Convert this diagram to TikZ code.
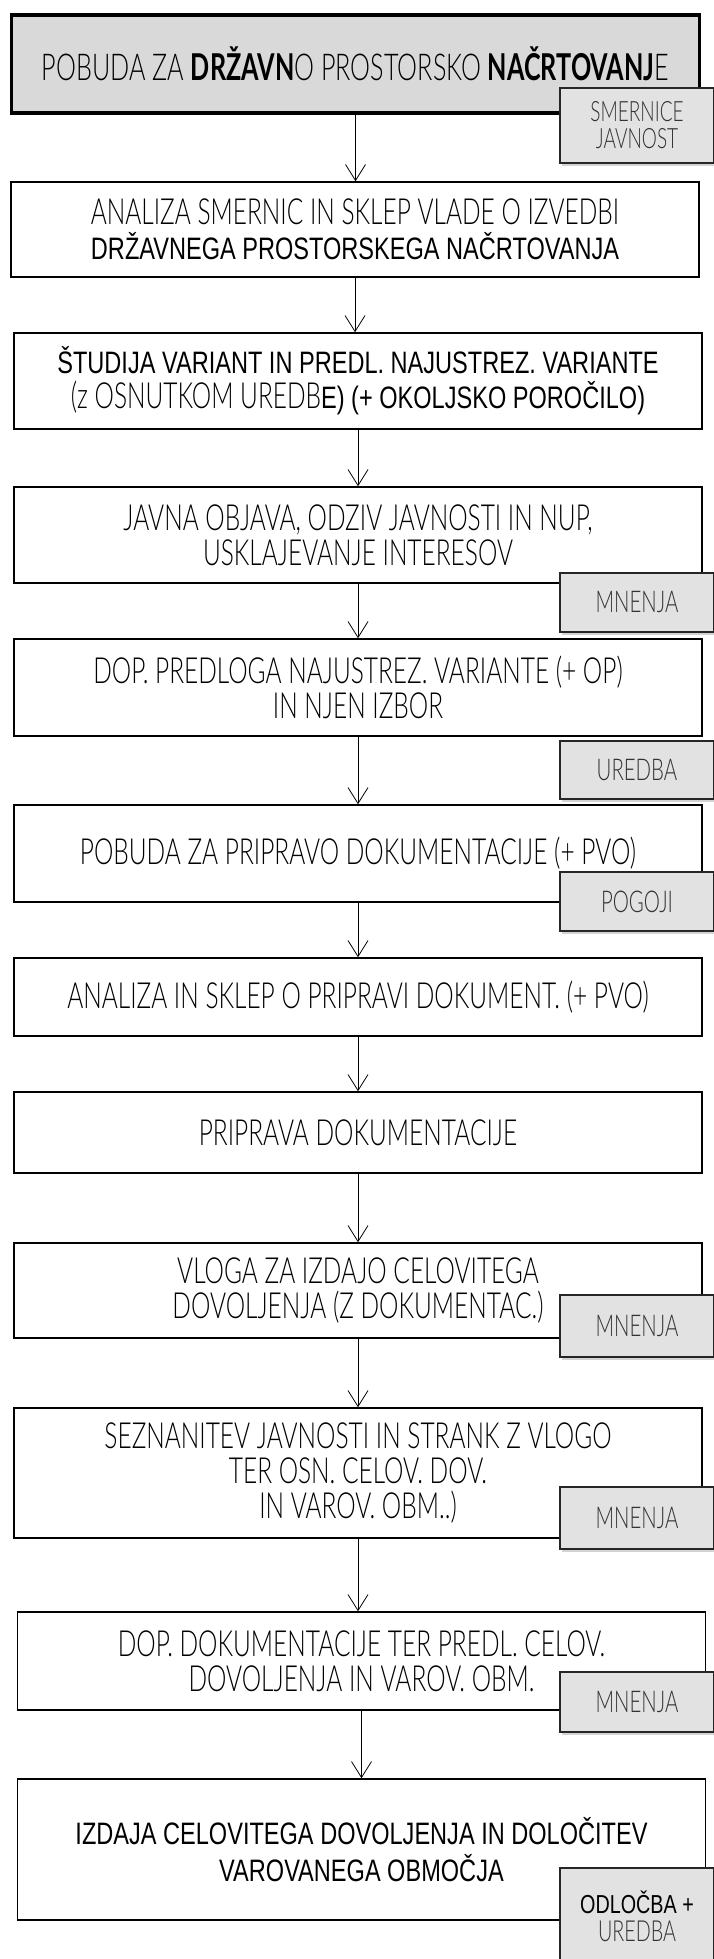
\documentclass[tikz,border=0pt]{standalone}
\usepackage{fontspec}
\usetikzlibrary{arrows.meta,shadows}
\newfontfamily\lightf{Lato Light}[FakeStretch=0.68]
\newfontfamily\boldf{Lato Bold}[FakeStretch=0.68]
\newfontfamily\narrowf{Liberation Sans}[FakeStretch=0.76]
\definecolor{topfill}{HTML}{D9D9D9}
\definecolor{tagfill}{HTML}{E2E2E2}
\definecolor{tagtext}{HTML}{333333}

\begin{document}
\begin{tikzpicture}[x=1pt,y=-1pt]

\tikzset{line/.style={draw,line width=0.8pt}}
\tikzset{arrow/.style={line,-{Straight Barb[length=16pt,width=20pt]}}}
\tikzset{box/.style={draw,line width=1.5pt,minimum width=688pt,align=center,inner sep=0pt,font=\lightf\fontsize{36}{35}\selectfont}}
\tikzset{tag/.style={draw=black!85,line width=1.5pt,fill=tagfill,minimum width=154pt,align=center,inner sep=0pt,text=tagtext,font=\lightf\fontsize{30}{25}\selectfont,drop shadow={opacity=0.35,shadow xshift=1.5pt,shadow yshift=-3pt}}}

\useasboundingbox (0,0) rectangle (713,1959);

\node[box,line width=3.5pt,fill=topfill,minimum height=98pt,font=\lightf\fontsize{37}{35}\selectfont] (b1) at (355.5,64) {POBUDA ZA {\boldf DRŽAVN}O PROSTORSKO {\boldf NAČRTOVANJ}E};
\node[box,minimum height=95pt] (b2) at (355,229.5) {ANALIZA SMERNIC IN SKLEP VLADE O IZVEDBI\\{\narrowf\fontsize{31}{35}\selectfont DRŽAVNEGA PROSTORSKEGA NAČRTOVANJA}};
\node[box,minimum height=96pt,font=\narrowf\fontsize{31}{35}\selectfont] (b3) at (358,381) {ŠTUDIJA VARIANT IN PREDL. NAJUSTREZ. VARIANTE\\{\lightf\fontsize{36}{35}\selectfont(z OSNUTKOM UREDB}E) (+ OKOLJSKO POROČILO)};
\node[box,minimum height=96pt] (b4) at (358,535) {JAVNA OBJAVA, ODZIV JAVNOSTI IN NUP,\\USKLAJEVANJE INTERESOV};
\node[box,minimum height=97pt] (b5) at (358,687.5) {DOP. PREDLOGA NAJUSTREZ. VARIANTE (+ OP)\\IN NJEN IZBOR};
\node[box,minimum height=97pt] (b6) at (358,853.5) {POBUDA ZA PRIPRAVO DOKUMENTACIJE (+ PVO)};
\node[box,minimum height=78pt] (b7) at (358,997) {ANALIZA IN SKLEP O PRIPRAVI DOKUMENT. (+ PVO)};
\node[box,minimum height=81pt] (b8) at (358,1132.5) {PRIPRAVA DOKUMENTACIJE};
\node[box,minimum height=95pt] (b9) at (358,1290.5) {VLOGA ZA IZDAJO CELOVITEGA\\DOVOLJENJA (Z DOKUMENTAC.)};
\node[box,minimum height=130pt] (b10) at (358,1473) {SEZNANITEV JAVNOSTI IN STRANK Z VLOGO\\TER OSN. CELOV. DOV.\\IN VAROV. OBM..)};
\node[box,minimum height=98pt] (b11) at (361.5,1661) {DOP. DOKUMENTACIJE TER PREDL. CELOV.\\DOVOLJENJA IN VAROV. OBM.};
\node[box,minimum height=141pt,font=\narrowf\fontsize{31}{37}\selectfont] (b12) at (361.5,1849.5) {IZDAJA CELOVITEGA DOVOLJENJA IN DOLOČITEV\\VAROVANEGA OBMOČJA};

\path[arrow] (b1.south) to (b1.south |- b2.north);
\path[arrow] (b2.south) to (b2.south |- b3.north);
\path[arrow] (b3.south) to (b3.south |- b4.north);
\path[arrow] (b4.south) to (b4.south |- b5.north);
\path[arrow] (b5.south) to (b5.south |- b6.north);
\path[arrow] (b6.south) to (b6.south |- b7.north);
\path[arrow] (b7.south) to (b7.south |- b8.north);
\path[arrow] (b8.south) to (b8.south |- b9.north);
\path[arrow] (b9.south) to (b9.south |- b10.north);
\path[arrow] (b10.south) to (b10.south |- b11.north);
\path[arrow] (b11.south) to (b11.south |- b12.north);

\node[tag,minimum height=75pt,font=\lightf\fontsize{28}{27}\selectfont] (t1) at (637,125.5) {SMERNICE\\JAVNOST};
\node[tag,minimum height=59pt] (t2) at (637,602.5) {MNENJA};
\node[tag,minimum height=58pt] (t3) at (637,770) {UREDBA};
\node[tag,minimum height=59pt] (t4) at (637,901.5) {POGOJI};
\node[tag,minimum height=62pt] (t5) at (637,1326) {MNENJA};
\node[tag,minimum height=62pt] (t6) at (637,1518) {MNENJA};
\node[tag,minimum height=60pt] (t7) at (637,1702) {MNENJA};
\node[tag,minimum height=97pt,font=\lightf\fontsize{29}{28}\selectfont] (t8) at (637,1916.5) {{\narrowf\fontsize{26}{28}\selectfont\color{black}ODLOČBA +}\\UREDBA};

\end{tikzpicture}
\end{document}
